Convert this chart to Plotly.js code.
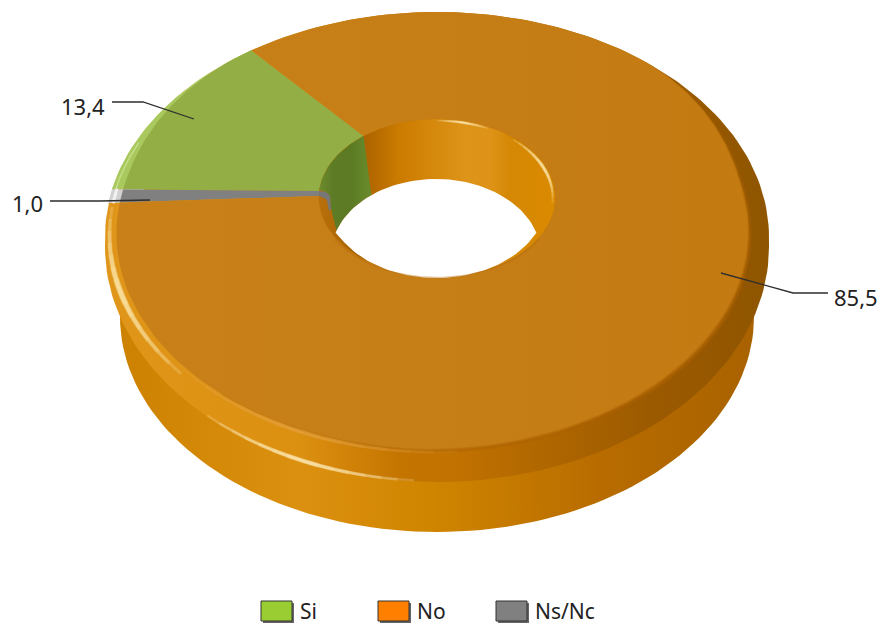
<!DOCTYPE html>
<html>
<head>
<meta charset="utf-8">
<script src="https://cdn.plot.ly/plotly-3.0.1.min.js"></script>
<style>html,body{margin:0;padding:0;background:#fff}#chart{width:881px;height:625px}</style>
</head>
<body>
<div id="chart"></div>
<script>
// ---- data ----
const categories = ['Si', 'No', 'Ns/Nc'];
const values = [13.4, 85.5, 1.0];
const legendColors = ['#9ACD32', '#FF8000', '#808080'];
const rimColors = ['#A9C95F', null, '#D2D2D2'];
const sliceOrder = [0, 2, 1];          // drawn counter-clockwise from the start angle
const startAngle = -41;

// ---- projection of the ring onto the page ----
const K = 0.2, CX = 437, CY = 192, SX = 326, SY = 216, HOLE = 0.362;
const rad = d => d * Math.PI / 180;
function proj(t, r) {
  const c = Math.cos(rad(t)), s = Math.sin(rad(t)), w = 1 + K * r * c;
  return [CX + SX * r * s / w, CY - SY * r * c / w];
}
function ell(cx, cy, rx, ry, a) { return [cx + rx * Math.cos(rad(a)), cy + ry * Math.sin(rad(a))]; }
function range(a, b, n) { const o = []; for (let i = 0; i <= n; i++) o.push(a + (b - a) * i / n); return o; }
function faceR(t) {
  const n = ((t % 360) + 360) % 360;                 // 0..360 clockwise from the top
  const a = n > 180 ? 360 - n : n;
  let u = Math.min(1, Math.max(0, (a - 42) / 50)); u = u * u * (3 - 2 * u);
  const d = 0.035 + (n < 180 ? 0.025 * Math.sin(rad(n)) : 0);
  return 1 - d * u;
}
const traces = [];
function poly(pts, fill, name) {
  const tr = { x: pts.map(p => p[0]).concat(pts[0][0]), y: pts.map(p => p[1]).concat(pts[0][1]),
    mode: 'lines', line: { width: 0 }, fill: 'toself', hoverinfo: 'skip', showlegend: false, name: name || '' };
  if (typeof fill === 'string') tr.fillcolor = fill; else tr.fillgradient = fill;
  traces.push(tr);
}
function stroke(pts, color, width, opacity) {
  traces.push({ x: pts.map(p => p[0]), y: pts.map(p => p[1]), mode: 'lines',
    line: { color, width }, opacity, hoverinfo: 'skip', showlegend: false });
}
// a glint: nested arcs, so that it fades out toward both ends
function glint(fn, a, b, color, width, peak) {
  const layers = 7, mid = (a + b) / 2, half = (b - a) / 2;
  for (let i = 0; i < layers; i++) {
    const f = 1 - i / layers;
    stroke(range(mid - half * f, mid + half * f, 30).map(fn), color, width * (0.45 + 0.55 * (1 - f)), peak / layers * 1.6);
  }
}
function grad(start, stop, stops) {
  return { type: 'horizontal', start, stop,
    colorscale: stops.map(s => [(s[0] - start) / (stop - start), s[1]]) };
}

// ---- body of the ring ----
const lower = range(0, 360, 180).map(a => ell(437, 317, 317, 215, a));
poly(lower, grad(120, 754, [[120, '#CC8200'], [300, '#DC9010'], [430, '#D08500'], [600, '#B86C00'], [754, '#A96200']]));
const rim = range(0, 360, 240).map(a => a <= 180 ? ell(437, 247, 332, 235, a) : ell(437, 237, 332, 225, a));
poly(rim, grad(105, 770, [[105, '#E0961A'], [300, '#DC9010'], [400, '#C47500'], [450, '#C27200'], [650, '#9C5A00'], [770, '#8F5500']]));

// ---- slices, with angles taken from the values ----
const faceFill = [
  '#93AE45',
  grad(110, 760, [[110, '#C98018'], [400, '#C67E17'], [760, '#C37A11']]),
  '#808080'
];
const total = values.reduce((a, b) => a + b, 0);
let cursor = startAngle;
const spans = {};
sliceOrder.forEach(i => {
  const a0 = cursor, a1 = cursor - values[i] / total * 360;
  spans[i] = [a0, a1];
  cursor = a1;
  const n = Math.max(4, Math.ceil((a0 - a1) / 1.5));
  const ts = range(a0, a1, n);
  if (rimColors[i]) poly(ts.map(t => proj(t, 1)).concat(ts.slice().reverse().map(t => proj(t, 0.9))), rimColors[i]);
  poly(ts.map(t => proj(t, faceR(t))).concat(ts.slice().reverse().map(t => proj(t, HOLE))), faceFill[i], categories[i]);
});

// ---- soft edge of the face and rim highlights ----
glint(t => proj(t, faceR(t) + 0.002), 55, 215, '#AE6808', 6, 0.65);
const onFace = r => t => proj(t, r);
const onRim = p => ell(437, 247, 331, 234, p);
stroke(range(-76, -89, 10).map(onFace(0.988)), '#D8EBA0', 1.5, 0.6);
stroke(range(-89, -93, 4).map(onFace(0.985)), '#FFFFFF', 3, 0.7);
glint(onFace(0.985), -137, -94, '#FFEDB4', 7, 0.95);
glint(onRim, 94, 134, '#FFEFBC', 5, 1);
glint(t => proj(t, faceR(t) + 0.006), -183, -135, '#E8A84A', 5, 0.6);

// ---- the hole ----
poly(range(0, 360, 120).map(t => proj(t, HOLE)),
  grad(318, 553, [[318, '#B8700C'], [360, '#A96000'], [400, '#CC7C00'], [465, '#DD9418'], [490, '#DE9318'], [510, '#D58804'], [553, '#DA8A00']]));
const lensTop = a => ell(436, 255, 105, 76, a);
const greenWall = range(spans[0][0], spans[0][1] + 1, 24).map(t => proj(t, HOLE))
  .concat([[326, 192], [330, 196], [331, 208], [337, 233]])
  .concat(range(197, 232, 12).map(lensTop));
poly(greenWall, grad(320, 372, [[320, '#6C8C2E'], [332, '#5E7C25'], [350, '#5B7A23'], [372, '#6A8C2C']]));
poly(range(spans[2][0], spans[2][1], 4).map(t => proj(t, HOLE))
  .concat([[324, 198], [327, 200], [329, 211], [331, 209], [330, 196], [326, 192]]), '#777777');
const lens = range(26, 154, 50).map(a => ell(436.5, 198, 111, 80, a)).concat(range(197, 343, 60).map(lensTop));
poly(lens, '#FFFFFF');
stroke(range(125, 235, 30).map(t => proj(t, HOLE + 0.005)), '#B56A08', 1.5, 0.35);
const onHole = t => proj(t, HOLE - 0.008);
glint(onHole, 0, 28, '#FFF0C0', 3, 0.9);
glint(onHole, 44, 98, '#FFF0C0', 4, 0.9);

// ---- value labels and leaders ----
const labelBoxes = [
  { text: values[0], x: 59, y: 106, leader: [[112, 102], [143, 102], [194, 119]] },
  { text: values[2], x: 10, y: 203, leader: [[50, 201], [100, 201], [150, 200]] },
  { text: values[1], x: 832, y: 297, leader: [[828, 293], [793, 293], [721, 273]] }
];
labelBoxes.forEach(l => traces.push({ x: l.leader.map(p => p[0]), y: l.leader.map(p => p[1]), mode: 'lines',
  line: { color: '#2E2E2E', width: 1.3 }, hoverinfo: 'skip', showlegend: false }));
const annotations = labelBoxes.map(l => ({ x: l.x, y: l.y, xref: 'x', yref: 'y', showarrow: false,
  xanchor: 'left', yanchor: 'middle', text: l.text.toFixed(1).replace('.', ','),
  font: { family: 'Noto Sans', size: 22, color: '#222222' } }));

// ---- legend ----
const legendX = [261, 378, 496];
const shapes = [];
categories.forEach((c, i) => {
  const x = legendX[i];
  shapes.push({ type: 'rect', xref: 'x', yref: 'y', x0: x + 2, x1: x + 33, y0: 603, y1: 623, fillcolor: '#666666', line: { width: 0 } });
  shapes.push({ type: 'rect', xref: 'x', yref: 'y', x0: x, x1: x + 31, y0: 601, y1: 621, fillcolor: legendColors[i], line: { color: '#333333', width: 1 } });
  annotations.push({ x: x + 37, y: 611, xref: 'x', yref: 'y', showarrow: false, xanchor: 'left', yanchor: 'middle',
    text: c, font: { family: 'Noto Sans', size: 21, color: '#222222' } });
});

Plotly.newPlot('chart', traces, {
  width: 881, height: 625, margin: { l: 0, r: 0, t: 0, b: 0 },
  paper_bgcolor: '#FFFFFF', plot_bgcolor: '#FFFFFF', showlegend: false,
  xaxis: { range: [0, 881], visible: false, fixedrange: true },
  yaxis: { range: [625, 0], visible: false, fixedrange: true },
  annotations, shapes
}, { displayModeBar: false, staticPlot: true });
</script>
</body>
</html>
